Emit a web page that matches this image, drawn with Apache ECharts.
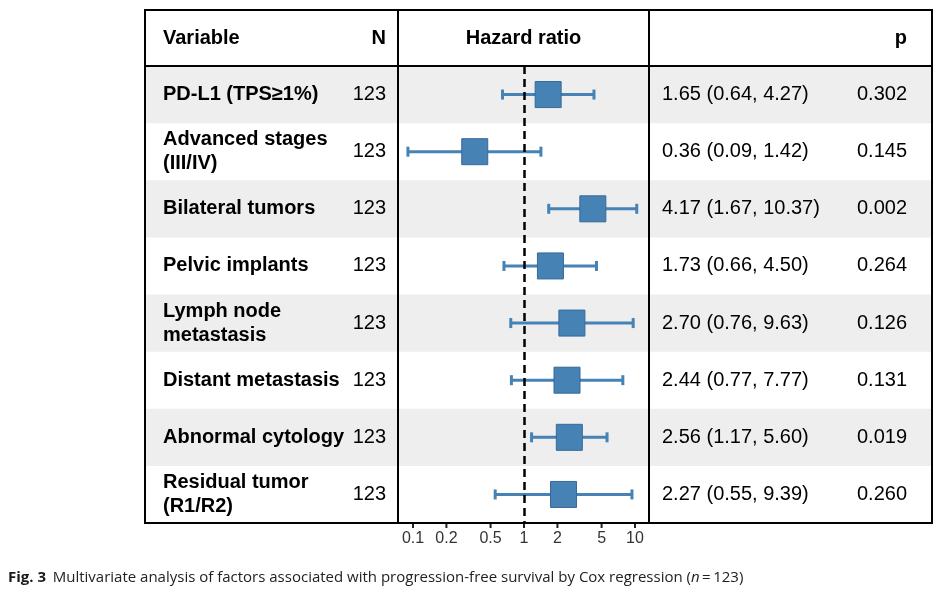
<!DOCTYPE html>
<html>
<head>
<meta charset="utf-8">
<script src="https://cdn.jsdelivr.net/npm/echarts@6/dist/echarts.min.js"></script>
<style>
html,body{margin:0;padding:0;background:#fff;}
#chart{width:945px;height:595px;}
</style>
</head>
<body>
<div id="chart"></div>
<script>
const variables = ['PD-L1 (TPS\u22651%)', 'Advanced stages\n(III/IV)', 'Bilateral tumors', 'Pelvic implants', 'Lymph node\nmetastasis', 'Distant metastasis', 'Abnormal cytology', 'Residual tumor\n(R1/R2)'];
const nValues = [123, 123, 123, 123, 123, 123, 123, 123];
const hr = [1.65, 0.36, 4.17, 1.73, 2.70, 2.44, 2.56, 2.27];
const lower = [0.64, 0.09, 1.67, 0.66, 0.76, 0.77, 1.17, 0.55];
const upper = [4.27, 1.42, 10.37, 4.50, 9.63, 7.77, 5.60, 9.39];
const pValues = ['0.302', '0.145', '0.002', '0.264', '0.126', '0.131', '0.019', '0.260'];
const tickValues = [0.1, 0.2, 0.5, 1, 2, 5, 10];
const tickLabels = ['0.1', '0.2', '0.5', '1', '2', '5', '10'];

const FONT = 'Arial, "Liberation Sans", Helvetica, sans-serif';
const CAPFONT = '"Open Sans", sans-serif';
const TABLE = { left: 145, right: 932, top: 10, headerBottom: 66, bottom: 523, col1: 398, col2: 649 };
const BLUE = '#4682B4';

const chart = echarts.init(document.getElementById('chart'), null, { renderer: 'canvas' });

const rowData = variables.map((v, i) => [1, i]);
const ciData = hr.map((h, i) => [h, i, lower[i], upper[i]]);
const tickData = tickValues.map((t, i) => [t, 0]);

const option = {
  animation: false,
  backgroundColor: '#fff',
  grid: { left: TABLE.col1, right: 945 - TABLE.col2, top: TABLE.headerBottom, bottom: 595 - TABLE.bottom, containLabel: false },
  xAxis: {
    type: 'log', logBase: 10,
    min: Math.pow(10, (398 - 524) / 111), max: Math.pow(10, (649 - 524) / 111),
    axisLine: { show: true, lineStyle: { color: '#000', width: 2 } },
    axisTick: { show: false }, axisLabel: { show: false }, splitLine: { show: false }
  },
  yAxis: {
    type: 'category', data: variables, inverse: true, boundaryGap: true,
    axisLine: { show: false }, axisTick: { show: false }, axisLabel: { show: false }, splitLine: { show: false }
  },
  series: [
    {
      name: 'stripes', type: 'custom', z: 0, silent: true, clip: false,
      data: rowData,
      renderItem: (params, api) => {
        const i = params.dataIndex;
        if (i % 2 !== 0) return null;
        const y = api.coord([1, i])[1];
        const h = api.size([0, 1])[1];
        return { type: 'rect', shape: { x: TABLE.left, y: y - h / 2, width: TABLE.right - TABLE.left, height: h }, style: { fill: '#EEEEEE' } };
      }
    },
    {
      name: 'table', type: 'custom', z: 1, silent: true, clip: false,
      data: rowData,
      renderItem: (params, api) => {
        const i = params.dataIndex;
        const y = api.coord([1, i])[1];
        const txt = (text, x, align, bold) => ({
          type: 'text',
          style: { text, x, y, align, verticalAlign: 'middle', fontFamily: FONT, fontSize: 20, fontWeight: bold ? 'bold' : 'normal', lineHeight: 24, fill: '#000' }
        });
        const hrText = hr[i].toFixed(2) + ' (' + lower[i].toFixed(2) + ', ' + upper[i].toFixed(2) + ')';
        return {
          type: 'group',
          children: [
            txt(variables[i], 163, 'left', true),
            txt(String(nValues[i]), 386, 'right', false),
            txt(hrText, 662, 'left', false),
            txt(pValues[i], 907, 'right', false)
          ]
        };
      }
    },
    {
      name: 'ref', type: 'line', z: 2, data: [], silent: true,
      markLine: {
        silent: true, symbol: 'none', label: { show: false },
        lineStyle: { color: '#000', width: 2.5, type: [8, 5] },
        data: [{ xAxis: 1 }]
      }
    },
    {
      name: 'ci', type: 'custom', z: 3, silent: true,
      data: ciData,
      renderItem: (params, api) => {
        const c = api.coord([api.value(0), api.value(1)]);
        const lo = api.coord([api.value(2), api.value(1)]);
        const hi = api.coord([api.value(3), api.value(1)]);
        const y = c[1];
        const ls = { stroke: BLUE, lineWidth: 3 };
        const cap = 5;
        const box = 26;
        return {
          type: 'group',
          children: [
            { type: 'line', shape: { x1: lo[0], y1: y, x2: hi[0], y2: y }, style: ls },
            { type: 'line', shape: { x1: lo[0], y1: y - cap, x2: lo[0], y2: y + cap }, style: ls },
            { type: 'line', shape: { x1: hi[0], y1: y - cap, x2: hi[0], y2: y + cap }, style: ls },
            { type: 'rect', shape: { x: c[0] - box / 2, y: y - box / 2, width: box, height: box }, style: { fill: BLUE, stroke: '#35699A', lineWidth: 1 } }
          ]
        };
      }
    },
    {
      name: 'ticks', type: 'custom', z: 3, silent: true, clip: false,
      data: tickData,
      renderItem: (params, api) => {
        const i = params.dataIndex;
        const x = api.coord([api.value(0), 0])[0];
        const yb = params.coordSys.y + params.coordSys.height;
        return {
          type: 'group',
          children: [
            { type: 'line', shape: { x1: x, y1: yb, x2: x, y2: yb + 5 }, style: { stroke: '#222', lineWidth: 2 } },
            { type: 'text', style: { text: tickLabels[i], x, y: yb + 16, align: 'center', verticalAlign: 'middle', fontFamily: FONT, fontSize: 16, fill: '#333' } }
          ]
        };
      }
    }
  ],
  graphic: {
    elements: [
      { type: 'rect', z: 100, silent: true, shape: { x: TABLE.left, y: TABLE.top, width: TABLE.right - TABLE.left, height: TABLE.bottom - TABLE.top }, style: { fill: 'none', stroke: '#000', lineWidth: 2 } },
      { type: 'line', z: 100, silent: true, shape: { x1: TABLE.left, y1: TABLE.headerBottom, x2: TABLE.right, y2: TABLE.headerBottom }, style: { stroke: '#000', lineWidth: 2 } },
      { type: 'line', z: 100, silent: true, shape: { x1: TABLE.col1, y1: TABLE.top, x2: TABLE.col1, y2: TABLE.bottom }, style: { stroke: '#000', lineWidth: 2 } },
      { type: 'line', z: 100, silent: true, shape: { x1: TABLE.col2, y1: TABLE.top, x2: TABLE.col2, y2: TABLE.bottom }, style: { stroke: '#000', lineWidth: 2 } },
      { type: 'text', z: 100, silent: true, style: { text: 'Variable', x: 163, y: 38, align: 'left', verticalAlign: 'middle', fontFamily: FONT, fontSize: 20, fontWeight: 'bold', fill: '#000' } },
      { type: 'text', z: 100, silent: true, style: { text: 'N', x: 386, y: 38, align: 'right', verticalAlign: 'middle', fontFamily: FONT, fontSize: 20, fontWeight: 'bold', fill: '#000' } },
      { type: 'text', z: 100, silent: true, style: { text: 'Hazard ratio', x: 523.5, y: 38, align: 'center', verticalAlign: 'middle', fontFamily: FONT, fontSize: 20, fontWeight: 'bold', fill: '#000' } },
      { type: 'text', z: 100, silent: true, style: { text: 'p', x: 907, y: 38, align: 'right', verticalAlign: 'middle', fontFamily: FONT, fontSize: 20, fontWeight: 'bold', fill: '#000' } },
      { type: 'text', z: 100, silent: true, style: {
          text: '{b|Fig. 3}  {r|Multivariate analysis of factors associated with progression-free survival by Cox regression (}{i|n}{r|\u2009=\u2009123)}',
          x: 8, y: 578, align: 'left', verticalAlign: 'middle',
          rich: {
            b: { fontFamily: CAPFONT, fontSize: 15, fontWeight: 'bold', fill: '#1a1a1a' },
            r: { fontFamily: CAPFONT, fontSize: 15, fill: '#222' },
            i: { fontFamily: CAPFONT, fontSize: 15, fontStyle: 'italic', fill: '#222' }
          }
        } }
    ]
  }
};
chart.setOption(option);
</script>
</body>
</html>
